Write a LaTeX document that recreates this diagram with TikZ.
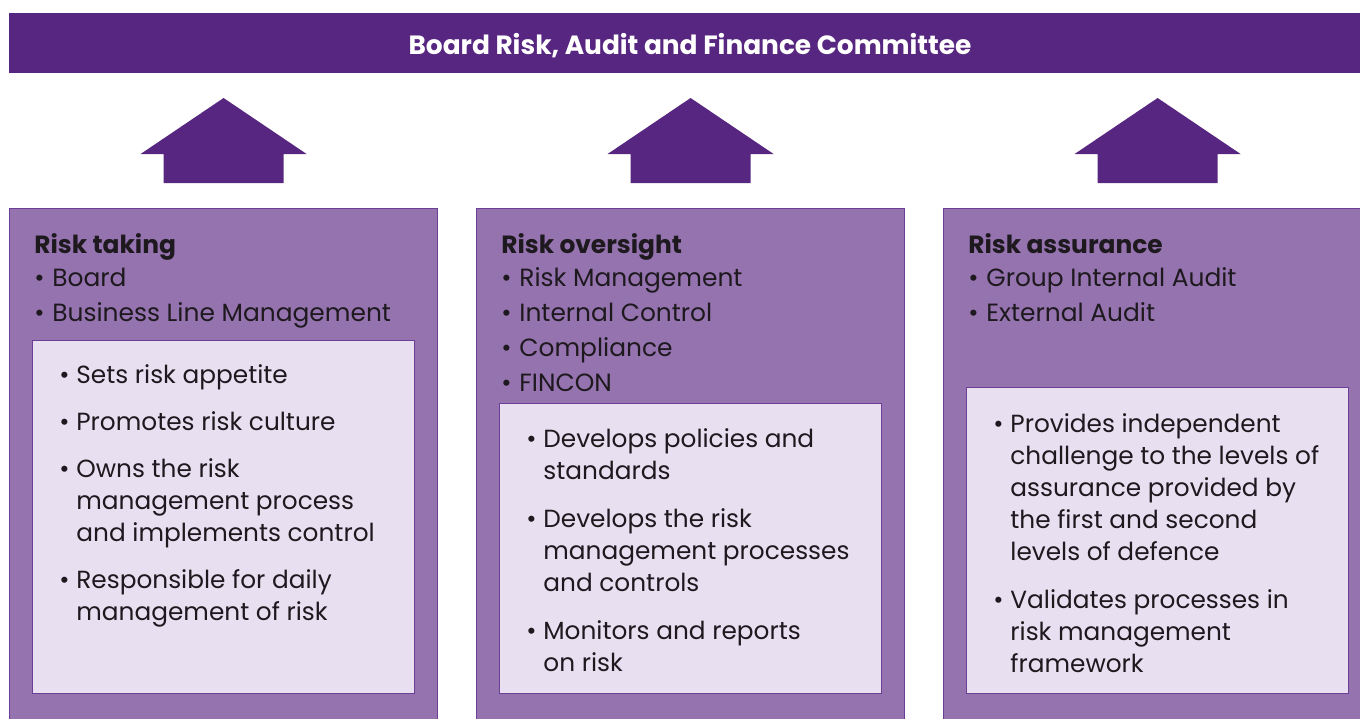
\documentclass[tikz,border=0pt]{standalone}
\usepackage{fontspec}
\setmainfont{Poppins}
\usetikzlibrary{positioning}

\definecolor{deeppurple}{RGB}{87,38,128}
\definecolor{midpurple}{RGB}{148,115,175}
\definecolor{palepurple}{RGB}{232,224,241}
\definecolor{edgepurple}{RGB}{108,62,150}
\definecolor{inktext}{RGB}{30,25,30}

% bullet column + text column
\newenvironment{bulletlist}[1]{\begin{tabular}[t]{@{}p{#1}@{}l@{}}}{\end{tabular}}

\begin{document}
\begin{tikzpicture}[x=0.5pt, y=-0.5pt,
  banner/.style={fill=deeppurple, text=white, minimum width=681pt, minimum height=30pt,
    inner sep=0pt, text height=11pt, text depth=0pt, font=\bfseries\fontsize{13.2}{15}\selectfont},
  pillar/.style={draw=edgepurple, line width=0.6pt, fill=midpurple, anchor=north west,
    minimum width=214pt, minimum height=260pt, inner sep=0pt},
  duties/.style={draw=edgepurple, line width=0.6pt, fill=palepurple, anchor=north west,
    minimum width=191pt, inner sep=0pt},
  roles/.style={anchor=base west, inner sep=0pt, text=inktext, font=\fontsize{12.45}{17.5}\selectfont},
  tasks/.style={anchor=base west, inner sep=0pt, text=inktext, font=\fontsize{12.4}{16}\selectfont}]
  \useasboundingbox (0,0) rectangle (1360,718);
  \clip (0,0) rectangle (1360,718);

  % committee banner
  \node[banner] (board) at (690,43) {Board Risk, Audit and Finance Committee};

  % the three columns
  \node[pillar] (taking) at (9,208) {};
  \node[pillar] (oversight) at (476,208) {};
  \node[pillar] (assurance) at (943,208) {};

  % block arrows up to the committee
  \foreach \col in {taking, oversight, assurance}
    \fill[deeppurple] ([shift={(0,-110)}]\col.north) -- ([shift={(83,-54)}]\col.north)
      -- ([shift={(60,-54)}]\col.north) -- ([shift={(60,-25)}]\col.north)
      -- ([shift={(-60,-25)}]\col.north) -- ([shift={(-60,-54)}]\col.north)
      -- ([shift={(-83,-54)}]\col.north) -- cycle;

  % inner duty boxes
  \node[duties, minimum height=176.5pt] (takingtasks) at ([shift={(23,132)}]taking.north west) {};
  \node[duties, minimum height=145pt] (oversighttasks) at ([shift={(23,195)}]oversight.north west) {};
  \node[duties, minimum height=153pt] (assurancetasks) at ([shift={(23,179)}]assurance.north west) {};

  % who takes part
  \node[roles] (takingroles) at ([shift={(25,45)}]taking.north west) {\begin{bulletlist}{9pt}
    \multicolumn{2}{@{}l@{}}{\bfseries Risk taking}\\[-1pt]
    \textbullet & Board\\
    \textbullet & Business Line Management
  \end{bulletlist}};
  \node[roles] (oversightroles) at ([shift={(25,45)}]oversight.north west) {\begin{bulletlist}{9pt}
    \multicolumn{2}{@{}l@{}}{\bfseries Risk oversight}\\[-1pt]
    \textbullet & Risk Management\\
    \textbullet & Internal Control\\
    \textbullet & Compliance\\
    \textbullet & FINCON
  \end{bulletlist}};
  \node[roles] (assuranceroles) at ([shift={(25,45)}]assurance.north west) {\begin{bulletlist}{9pt}
    \multicolumn{2}{@{}l@{}}{\bfseries Risk assurance}\\[-1pt]
    \textbullet & Group Internal Audit\\
    \textbullet & External Audit
  \end{bulletlist}};

  % what each column does
  \node[tasks] (takinglist) at ([shift={(27,43)}]takingtasks.north west) {\begin{bulletlist}{8.5pt}
    \textbullet & Sets risk appetite\\[7.5pt]
    \textbullet & Promotes risk culture\\[7.5pt]
    \textbullet & Owns the risk\\
                & management process\\
                & and implements control\\[7.5pt]
    \textbullet & Responsible for daily\\
                & management of risk
  \end{bulletlist}};
  \node[tasks] (oversightlist) at ([shift={(27,44)}]oversighttasks.north west) {\begin{bulletlist}{8.5pt}
    \textbullet & Develops policies and\\
                & standards\\[8pt]
    \textbullet & Develops the risk\\
                & management processes\\
                & and controls\\[8pt]
    \textbullet & Monitors and reports\\
                & on risk
  \end{bulletlist}};
  \node[tasks] (assurancelist) at ([shift={(27,45)}]assurancetasks.north west) {\begin{bulletlist}{8.5pt}
    \textbullet & Provides independent\\
                & challenge to the levels of\\
                & assurance provided by\\
                & the first and second\\
                & levels of defence\\[8pt]
    \textbullet & Validates processes in\\
                & risk management\\
                & framework
  \end{bulletlist}};
\end{tikzpicture}
\end{document}
